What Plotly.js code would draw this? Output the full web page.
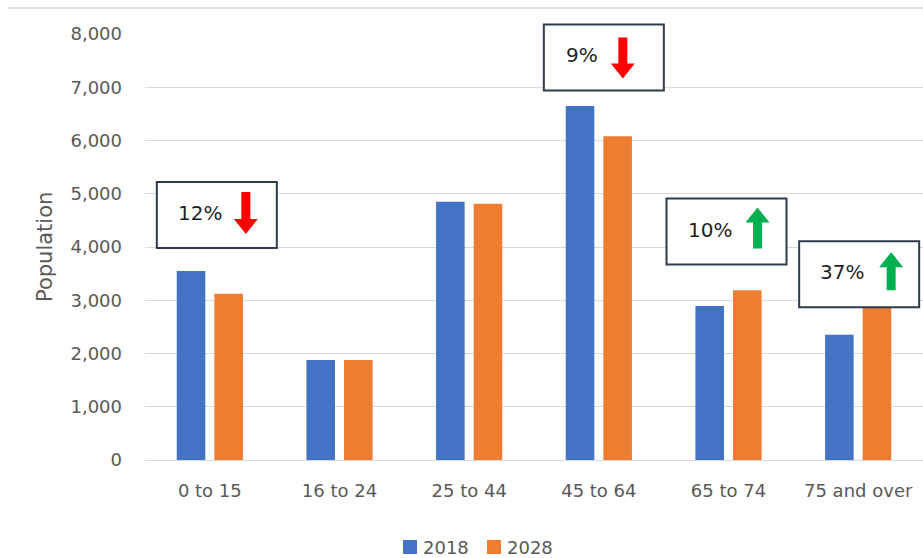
<!DOCTYPE html>
<html>
<head>
<meta charset="utf-8">
<script src="https://cdn.plot.ly/plotly-3.0.1.min.js"></script>
<style>html,body{margin:0;padding:0;background:#fff;}</style>
</head>
<body>
<div id="chart" style="width:923px;height:558px;"></div>
<script>
var categories = ['0 to 15', '16 to 24', '25 to 44', '45 to 64', '65 to 74', '75 and over'];
var values2018 = [3550, 1880, 4850, 6650, 2890, 2350];
var values2028 = [3120, 1880, 4810, 6080, 3190, 3220];
var seriesNames = ['2018', '2028'];
var seriesColors = ['#4472C4', '#ED7D31'];
var yTickVals = [0, 1000, 2000, 3000, 4000, 5000, 6000, 7000, 8000];
var yTickText = ['0', '1,000', '2,000', '3,000', '4,000', '5,000', '6,000', '7,000', '8,000'];
var yRange = [0, 8000];

// change callouts
var calloutCategory = [0, 3, 4, 5];
var calloutLabel = ['12%', '9%', '10%', '37%'];
var calloutDirection = ['down', 'down', 'up', 'up'];
var calloutLevel = [4600, 7560, 4290, 3490];

var FONT = '"DejaVu Sans", Verdana, sans-serif';
var L = 145, R = 923, T = 34, B = 460;
var PW = R - L, PH = B - T;
function px(x) { return (x - L) / PW; }
function py(y) { return (B - y) / PH; }
function levelToPaper(v) { return (v - yRange[0]) / (yRange[1] - yRange[0]); }

var boxXShift = [7, 5, -2, 1];
var textXShift = [-10, -17, -19, -16];
var arrowXShift = [36, 24, 29, 33];
var arrowTop = [23, 20, 24, 22];
var arrowBottom = [-19, -21, -17, -16];

function arrowPath(cx, top, bottom, dir) {
  var sw = 4.5, hw = 12, hh = 15;
  var p;
  if (dir === 'down') {
    var hs = bottom + hh;
    p = [[cx - sw, top], [cx + sw, top], [cx + sw, hs], [cx + hw, hs], [cx, bottom], [cx - hw, hs], [cx - sw, hs]];
  } else {
    var hs2 = top - hh;
    p = [[cx - sw, bottom], [cx + sw, bottom], [cx + sw, hs2], [cx + hw, hs2], [cx, top], [cx - hw, hs2], [cx - sw, hs2]];
  }
  return 'M' + p.map(function (q) { return q[0] + ',' + q[1]; }).join(' L') + ' Z';
}

var traces = [
  { type: 'bar', name: seriesNames[0], x: categories, y: values2018, marker: { color: seriesColors[0] } },
  { type: 'bar', name: seriesNames[1], x: categories, y: values2028, marker: { color: seriesColors[1] } }
];

var annotations = [];
var shapes = [];
for (var i = 0; i < calloutLabel.length; i++) {
  shapes.push({
    type: 'rect', xref: 'x', yref: 'paper', layer: 'above',
    xsizemode: 'pixel', ysizemode: 'pixel',
    xanchor: calloutCategory[i], yanchor: levelToPaper(calloutLevel[i]),
    x0: boxXShift[i] - 60, x1: boxXShift[i] + 60, y0: -33, y1: 33,
    fillcolor: '#FFFFFF', line: { color: '#2E3A4F', width: 2 }
  });
  shapes.push({
    type: 'path', xref: 'x', yref: 'paper', layer: 'above',
    xsizemode: 'pixel', ysizemode: 'pixel',
    xanchor: calloutCategory[i], yanchor: levelToPaper(calloutLevel[i]),
    path: arrowPath(arrowXShift[i], arrowTop[i], arrowBottom[i], calloutDirection[i]),
    fillcolor: calloutDirection[i] === 'down' ? '#FF0000' : '#00B050',
    line: { width: 0 }
  });
  annotations.push({
    xref: 'x', yref: 'y', x: calloutCategory[i], y: calloutLevel[i],
    xshift: textXShift[i], yshift: 2, text: calloutLabel[i], showarrow: false,
    font: { family: FONT, size: 20, color: '#1F1F1F' }
  });
}

annotations.push({
  xref: 'paper', yref: 'paper', x: px(45), y: 0.5, xanchor: 'center', yanchor: 'middle',
  text: 'Population', textangle: -90, showarrow: false,
  font: { family: FONT, size: 21, color: '#595959' }
});

// legend (drawn manually to match the compact spacing)
var legendSquareX = [403, 487];
var legendTextX = [421, 505];
for (var k = 0; k < seriesNames.length; k++) {
  shapes.push({
    type: 'rect', xref: 'paper', yref: 'paper',
    x0: px(legendSquareX[k]), x1: px(legendSquareX[k] + 14),
    y0: py(554), y1: py(540),
    fillcolor: seriesColors[k], line: { width: 0 }
  });
  annotations.push({
    xref: 'paper', yref: 'paper', x: px(legendTextX[k]), y: py(547),
    xanchor: 'left', yanchor: 'middle', text: seriesNames[k], showarrow: false,
    font: { family: FONT, size: 18, color: '#595959' }
  });
}

shapes.push({
  type: 'line', xref: 'paper', yref: 'paper',
  x0: px(7), x1: px(925), y0: py(8), y1: py(8),
  line: { color: '#D9D9D9', width: 1.5 }
});

var layout = {
  width: 923, height: 558,
  margin: { l: L, r: 923 - R, t: T, b: 558 - B },
  paper_bgcolor: '#FFFFFF', plot_bgcolor: '#FFFFFF',
  barmode: 'group', bargap: 0.42, bargroupgap: 0.24,
  font: { family: FONT, size: 18, color: '#595959' },
  showlegend: false,
  xaxis: {
    type: 'category', showgrid: false, zeroline: false, showline: true,
    linecolor: '#D9D9D9', linewidth: 1, ticks: '', ticklabelstandoff: 14,
    tickfont: { family: FONT, size: 18, color: '#595959' }, fixedrange: true
  },
  yaxis: {
    range: yRange, tickvals: yTickVals, ticktext: yTickText,
    showgrid: true, gridcolor: '#D9D9D9', gridwidth: 1, zeroline: false,
    showline: false, ticks: '', ticklabelstandoff: 22,
    tickfont: { family: FONT, size: 18, color: '#595959' }, fixedrange: true
  },
  annotations: annotations,
  shapes: shapes
};

Plotly.newPlot('chart', traces, layout, { displayModeBar: false, staticPlot: true });
</script>
</body>
</html>
